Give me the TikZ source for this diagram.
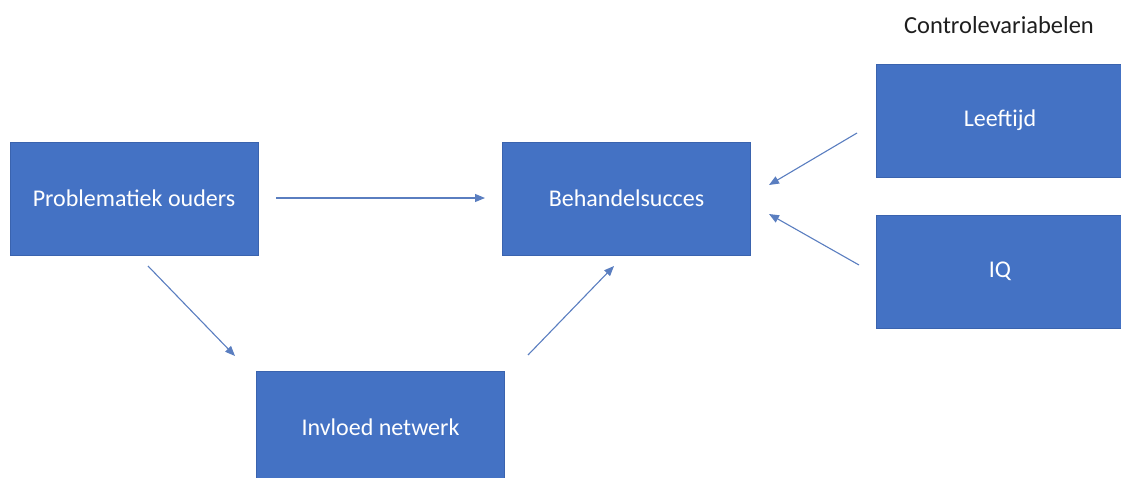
\documentclass[tikz,border=0pt]{standalone}
\usepackage{fontspec}
\setmainfont{Carlito}
\usetikzlibrary{arrows.meta}
\definecolor{boxblue}{HTML}{4472C4}
\definecolor{boxedge}{HTML}{3A63AE}
\definecolor{arrowc}{HTML}{5A7EC0}
\definecolor{titlec}{HTML}{1E1E1E}
\tikzset{
  box/.style={rectangle, fill=boxblue, draw=boxedge, line width=0.6pt,
    minimum width=248pt, minimum height=113pt, inner sep=0pt,
    text=white, font=\fontsize{24}{28}\selectfont},
  conn/.style={draw=arrowc, line width=1.1pt, -{Triangle[length=10pt,width=8pt]}},
  title/.style={text=titlec, font=\fontsize{24.5}{28}\selectfont, inner sep=0pt}
}
\begin{document}
\begin{tikzpicture}[x=1pt,y=-1pt]
\useasboundingbox (0,0) rectangle (1121,477);
\node[box] (p) at (134,198.5) {Problematiek ouders};
\node[box] (b) at (626.5,198.5) {Behandelsucces};
\node[box] (i) at (380.5,427.5) {Invloed netwerk};
\node[box] (l) at (1000,120.5) {Leeftijd};
\node[box] (q) at (1000,271.5) {IQ};
\node[title] (c) at (999,25) {Controlevariabelen};
% connector end points
\coordinate (p1) at (276,198);
\coordinate (b1) at (485,198);
\coordinate (p2) at (148,266);
\coordinate (i1) at (235,356);
\coordinate (i2) at (528,355);
\coordinate (b2) at (614,266);
\coordinate (l1) at (857,133);
\coordinate (b3) at (769,185);
\coordinate (q1) at (859,265);
\coordinate (b4) at (769,214);
\draw[conn] (p1) -- (b1);
\draw[conn] (p2) -- (i1);
\draw[conn] (i2) -- (b2);
\draw[conn] (l1) -- (b3);
\draw[conn] (q1) -- (b4);
\end{tikzpicture}
\end{document}
